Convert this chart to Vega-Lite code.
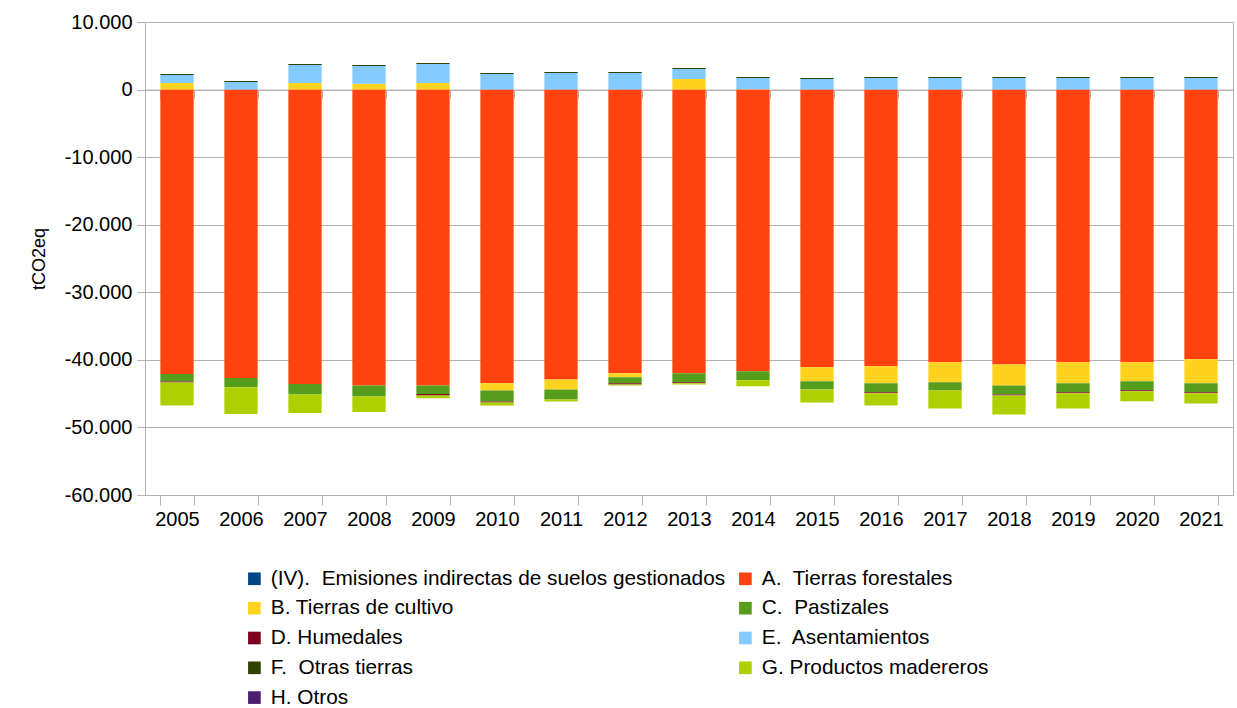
{
  "$schema": "https://vega.github.io/schema/vega-lite/v6.json",
  "autosize": {"type": "none"},
  "padding": {"left": 145, "top": 22, "right": 4, "bottom": 213},
  "width": 1088,
  "height": 473,
  "background": "white",
  "config": {
    "locale": {"number": {"decimal": ",", "thousands": ".", "grouping": [3], "currency": ["", " €"], "minus": "-"}},
    "font": "Liberation Sans",
    "view": {"stroke": "#b3b3b3", "strokeWidth": 1},
    "axis": {"labelFont": "Liberation Sans", "titleFont": "Liberation Sans", "labelColor": "#000000", "titleColor": "#000000", "gridColor": "#b3b3b3", "domainColor": "#b3b3b3", "tickColor": "#b3b3b3", "gridOpacity": 1},
    "legend": {"labelFont": "Liberation Sans"}
  },
  "data": {"values": [
    {"y":"2005","s":"A","v":-42100},{"y":"2005","s":"B","v":960},{"y":"2005","s":"C","v":-1090},{"y":"2005","s":"D","v":-150},{"y":"2005","s":"E","v":1190},{"y":"2005","s":"F","v":150},{"y":"2005","s":"G","v":-3410},
    {"y":"2006","s":"A","v":-42700},{"y":"2006","s":"C","v":-1370},{"y":"2006","s":"E","v":1110},{"y":"2006","s":"F","v":150},{"y":"2006","s":"G","v":-3960},
    {"y":"2007","s":"A","v":-43580},{"y":"2007","s":"B","v":960},{"y":"2007","s":"C","v":-1530},{"y":"2007","s":"E","v":2670},{"y":"2007","s":"F","v":150},{"y":"2007","s":"G","v":-2770},
    {"y":"2008","s":"A","v":-43780},{"y":"2008","s":"B","v":860},{"y":"2008","s":"C","v":-1630},{"y":"2008","s":"E","v":2620},{"y":"2008","s":"F","v":150},{"y":"2008","s":"G","v":-2320},
    {"y":"2009","s":"A","v":-43780},{"y":"2009","s":"B","v":960},{"y":"2009","s":"C","v":-1280},{"y":"2009","s":"D","v":-200},{"y":"2009","s":"E","v":2820},{"y":"2009","s":"F","v":150},{"y":"2009","s":"G","v":-440},
    {"y":"2010","s":"A","v":-43480},{"y":"2010","s":"B","v":-1040},{"y":"2010","s":"C","v":-1630},{"y":"2010","s":"D","v":-150},{"y":"2010","s":"E","v":2300},{"y":"2010","s":"F","v":150},{"y":"2010","s":"G","v":-440},
    {"y":"2011","s":"A","v":-42890},{"y":"2011","s":"B","v":-1480},{"y":"2011","s":"C","v":-1480},{"y":"2011","s":"E","v":2440},{"y":"2011","s":"F","v":150},{"y":"2011","s":"G","v":-300},
    {"y":"2012","s":"A","v":-42000},{"y":"2012","s":"B","v":-590},{"y":"2012","s":"C","v":-890},{"y":"2012","s":"D","v":-150},{"y":"2012","s":"E","v":2440},{"y":"2012","s":"F","v":150},{"y":"2012","s":"G","v":-150},
    {"y":"2013","s":"A","v":-42000},{"y":"2013","s":"B","v":1560},{"y":"2013","s":"C","v":-1330},{"y":"2013","s":"D","v":-150},{"y":"2013","s":"E","v":1480},{"y":"2013","s":"F","v":150},{"y":"2013","s":"G","v":-150},
    {"y":"2014","s":"A","v":-41700},{"y":"2014","s":"B","v":50},{"y":"2014","s":"C","v":-1330},{"y":"2014","s":"E","v":1650},{"y":"2014","s":"F","v":150},{"y":"2014","s":"G","v":-890},
    {"y":"2015","s":"A","v":-41110},{"y":"2015","s":"B","v":-2070},{"y":"2015","s":"C","v":-1190},{"y":"2015","s":"E","v":1550},{"y":"2015","s":"F","v":150},{"y":"2015","s":"G","v":-1930},
    {"y":"2016","s":"A","v":-40960},{"y":"2016","s":"B","v":-2520},{"y":"2016","s":"C","v":-1330},{"y":"2016","s":"D","v":-150},{"y":"2016","s":"E","v":1700},{"y":"2016","s":"F","v":150},{"y":"2016","s":"G","v":-1780},
    {"y":"2017","s":"A","v":-40370},{"y":"2017","s":"B","v":-2960},{"y":"2017","s":"C","v":-1190},{"y":"2017","s":"E","v":1700},{"y":"2017","s":"F","v":150},{"y":"2017","s":"G","v":-2670},
    {"y":"2018","s":"A","v":-40670},{"y":"2018","s":"B","v":-3110},{"y":"2018","s":"C","v":-1330},{"y":"2018","s":"D","v":-150},{"y":"2018","s":"E","v":1700},{"y":"2018","s":"F","v":150},{"y":"2018","s":"G","v":-2810},
    {"y":"2019","s":"A","v":-40370},{"y":"2019","s":"B","v":-3110},{"y":"2019","s":"C","v":-1330},{"y":"2019","s":"D","v":-150},{"y":"2019","s":"E","v":1700},{"y":"2019","s":"F","v":150},{"y":"2019","s":"G","v":-2230},
    {"y":"2020","s":"A","v":-40370},{"y":"2020","s":"B","v":-2810},{"y":"2020","s":"C","v":-1330},{"y":"2020","s":"D","v":-150},{"y":"2020","s":"E","v":1700},{"y":"2020","s":"F","v":150},{"y":"2020","s":"G","v":-1480},
    {"y":"2021","s":"A","v":-39920},{"y":"2021","s":"B","v":-3560},{"y":"2021","s":"C","v":-1330},{"y":"2021","s":"D","v":-150},{"y":"2021","s":"E","v":1700},{"y":"2021","s":"F","v":150},{"y":"2021","s":"G","v":-1490}
  ]},
  "layer": [
    {
      "mark": {"type": "bar"},
      "encoding": {
        "x": {"field": "y", "type": "ordinal", "scale": {"type": "band", "paddingInner": 0.48, "paddingOuter": 0.24},
              "axis": {"title": null, "labelAngle": 0, "labelFontSize": 20, "tickSize": 10, "labelPadding": 4, "tickBand": "extent", "domain": false, "grid": false}},
        "y": {"field": "v", "type": "quantitative", "stack": "zero",
              "scale": {"domain": [-60000, 10000], "nice": false, "zero": false},
              "axis": {"title": "tCO2eq", "titleFontSize": 18, "titleFontWeight": "normal", "titlePadding": 16,
                       "values": [-60000, -50000, -40000, -30000, -20000, -10000, 0, 10000], "format": ",d",
                       "labelFontSize": 20, "tickSize": 8, "labelPadding": 5, "grid": true}},
        "color": {"field": "s", "type": "nominal",
                  "scale": {"domain": ["IV","B","D","F","H","A","C","E","G"],
                            "range": ["#004586","#ffd320","#7e0021","#314004","#4b1f6f","#ff420e","#579d1c","#83caff","#aecf00"]},
                  "legend": {"orient": "none", "legendX": 99, "legendY": 546, "columns": 2, "title": null,
                             "symbolType": "square", "symbolSize": 160, "symbolStrokeWidth": 0, "labelFontSize": 20.8,
                             "labelOffset": 6, "rowPadding": 7.8, "columnPadding": 9, "labelLimit": 700, "padding": 0,
                             "labelColor": "#000000",
                             "labelExpr": "{'IV':'(IV).\u00a0 Emisiones indirectas de suelos gestionados','A':'A.\u00a0 Tierras forestales','B':'B. Tierras de cultivo','C':'C.\u00a0 Pastizales','D':'D. Humedales','E':'E.\u00a0 Asentamientos','F':'F.\u00a0 Otras tierras','G':'G. Productos madereros','H':'H. Otros'}[datum.label]"}},
        "order": {"field": "s", "type": "nominal", "sort": "ascending"}
      }
    },
    {
      "mark": {"type": "bar", "opacity": 0},
      "encoding": {
        "x": {"field": "y", "type": "ordinal", "scale": {"type": "band", "paddingInner": 0.48, "paddingOuter": 0.24},
              "axis": {"title": null, "labels": false, "tickSize": 9, "tickBand": "extent", "domain": true, "grid": false, "offset": -405.43, "orient": "bottom"}},
        "y": {"datum": 0}
      }
    }
  ],
  "resolve": {"axis": {"x": "independent"}}
}
